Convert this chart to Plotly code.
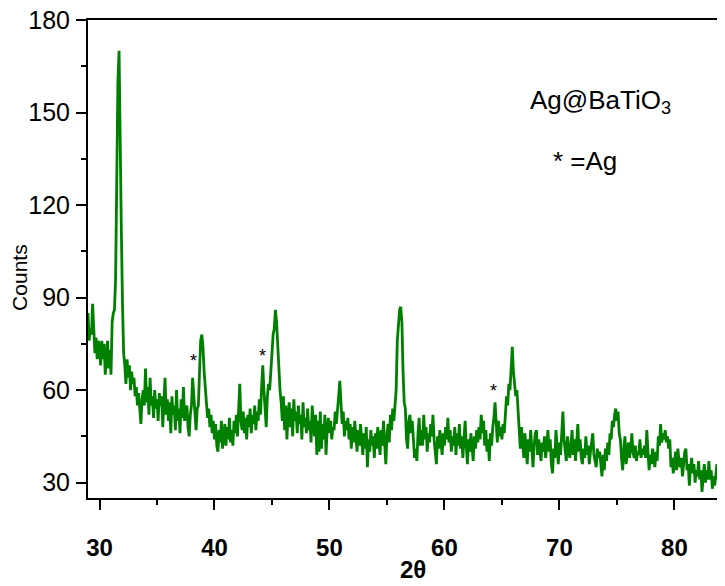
import plotly.graph_objects as go

# XRD pattern of Ag@BaTiO3, 2-theta from 29.0 in 0.1 degree steps
start_2theta = 29.0
step_2theta = 0.1

counts_29_39 = [
    85, 76, 80, 78, 88, 79, 72, 77, 70, 76,
    74, 68, 76, 70, 75, 65, 72, 76, 67, 73,
    65, 82, 85, 86, 96, 125, 160, 170, 148, 112,
    88, 72, 68, 62, 70, 64, 68, 60, 66, 62,
    64, 58, 61, 55, 59, 53, 49, 57, 60, 55,
    67, 56, 61, 52, 64, 55, 58, 51, 60, 54,
    57, 50, 59, 55, 58, 48, 55, 64, 52, 57,
    50, 56, 46, 58, 52, 55, 47, 60, 50, 54,
    46, 57, 51, 61, 50, 53, 55, 48, 45, 52,
    55, 64, 58, 50, 47, 54, 55, 66, 76, 78,
]
counts_39_49 = [
    74, 66, 60, 55, 51, 54, 48, 52, 46, 50,
    44, 49, 42, 40, 47, 43, 50, 41, 46, 49,
    42, 48, 44, 51, 43, 47, 42, 50, 46, 52,
    45, 55, 62, 50, 47, 53, 46, 51, 44, 52,
    48, 54, 46, 52, 49, 55, 47, 53, 50, 57,
    52, 61, 68, 60, 53, 48, 58, 62, 60, 66,
    70, 78, 80, 86, 82, 74, 66, 60, 56, 50,
    58, 47, 55, 44, 52, 56, 48, 54, 45, 57,
    50, 53, 46, 55, 49, 52, 44, 56, 48, 51,
    46, 54, 47, 50, 43, 55, 49, 45, 52, 39,
]
counts_49_59 = [
    50, 40, 53, 41, 49, 44, 52, 39, 47, 51,
    46, 50, 44, 48, 47, 53, 49, 55, 58, 63,
    56, 49, 53, 45, 50, 47, 51, 44, 49, 41,
    48, 43, 50, 45, 40, 47, 42, 49, 44, 39,
    46, 41, 48, 35, 44, 40, 47, 42, 45, 38,
    46, 41, 48, 43, 39, 47, 42, 50, 44, 36,
    45, 49, 43, 52, 47, 54, 50, 55, 60, 76,
    80, 86, 87, 82, 66, 56, 54, 44, 41, 50,
    52, 46, 50, 43, 38, 41, 37, 46, 51, 42,
    47, 42, 52, 44, 48, 40, 46, 43, 49, 45,
]
counts_59_69 = [
    52, 44, 40, 36, 45, 41, 47, 43, 39, 46,
    42, 48, 44, 51, 43, 47, 40, 45, 42, 48,
    39, 46, 42, 49, 41, 45, 38, 44, 50, 42,
    36, 44, 40, 46, 42, 37, 45, 41, 47, 43,
    48, 44, 52, 46, 50, 42, 47, 40, 44, 37,
    46, 42, 48, 51, 56, 47, 43, 50, 45, 48,
    44, 49, 46, 52, 58, 55, 62, 60, 66, 74,
    66, 62, 58, 60, 52, 46, 41, 48, 43, 38,
    46, 41, 36, 44, 40, 47, 42, 35, 42, 46,
    47, 39, 44, 41, 37, 43, 40, 45, 38, 42,
]
counts_69_79 = [
    47, 40, 44, 36, 33, 41, 38, 47, 40, 36,
    43, 39, 46, 53, 44, 40, 37, 45, 41, 38,
    42, 47, 39, 44, 37, 42, 49, 40, 44, 38,
    36, 41, 38, 45, 39, 42, 36, 40, 43, 46,
    39, 37, 35, 41, 38, 40, 36, 32, 39, 34,
    41, 37, 43, 39, 46, 44, 50, 48, 52, 54,
    50, 53, 46, 44, 38, 34, 41, 45, 36, 40,
    43, 38, 41, 46, 40, 38, 42, 37, 40, 39,
    44, 38, 41, 39, 42, 38, 47, 40, 34, 39,
    36, 41, 38, 35, 40, 37, 45, 42, 49, 43,
]
counts_79_85 = [
    46, 44, 47, 43, 45, 41, 44, 35, 38, 33,
    36, 40, 34, 41, 37, 35, 38, 32, 36, 40,
    41, 34, 36, 29, 35, 38, 33, 36, 30, 34,
    32, 37, 31, 34, 27, 32, 36, 30, 34, 31,
    37, 31, 34, 28, 32, 29, 33, 36, 31, 32,
    29, 33, 30, 35, 31,
]

counts = (counts_29_39 + counts_39_49 + counts_49_59
          + counts_59_69 + counts_69_79 + counts_79_85)
two_theta = [round(start_2theta + step_2theta * i, 2) for i in range(len(counts))]

# Ag reflections marked with '*'
ag_x = [38.2, 44.2, 64.3]
ag_y = [69.5, 71.1, 59.8]

x_ticks = [30, 40, 50, 60, 70, 80]
y_ticks = [30, 60, 90, 120, 150, 180]

FONT = "Arial, Liberation Sans, sans-serif"

fig = go.Figure()
fig.add_trace(go.Scatter(
    x=two_theta, y=counts, mode="lines",
    line=dict(color="#008000", width=2.8),
    showlegend=False, hoverinfo="skip",
))

for ax, ay in zip(ag_x, ag_y):
    fig.add_annotation(x=ax, y=ay, text="*", showarrow=False,
                       font=dict(family=FONT, size=18, color="black"),
                       xanchor="center", yanchor="middle")

fig.add_annotation(xref="paper", yref="paper", x=0.804, y=0.829,
                   text="Ag@BaTiO<sub>3</sub>", showarrow=False,
                   font=dict(family=FONT, size=26, color="black"),
                   xanchor="center", yanchor="middle")
fig.add_annotation(xref="paper", yref="paper", x=0.780, y=0.706,
                   text="* =Ag", showarrow=False,
                   font=dict(family=FONT, size=26, color="black"),
                   xanchor="center", yanchor="middle")

# axis titles placed as annotations
fig.add_annotation(xref="paper", yref="paper", x=-0.1068, y=0.4625,
                   text="Counts", showarrow=False, textangle=-90,
                   font=dict(family=FONT, size=21, color="black"),
                   xanchor="center", yanchor="middle")
fig.add_annotation(xref="paper", yref="paper", x=0.510, y=-0.1506,
                   text="<b>2θ</b>", showarrow=False,
                   font=dict(family=FONT, size=24, color="black"),
                   xanchor="center", yanchor="middle")

# page body adds an 8px offset, so the figure is sized to end at the window edge
fig.update_layout(
    width=717, height=578,
    margin=dict(l=80, r=0, t=12, b=88, autoexpand=False),
    paper_bgcolor="white", plot_bgcolor="white",
    font=dict(family=FONT, color="black"),
)
fig.update_xaxes(
    range=[29.0, 84.4], tickvals=x_ticks, automargin=False,
    ticks="outside", ticklen=10, tickwidth=2, tickcolor="black",
    minor=dict(dtick=5, tick0=0, ticks="outside", ticklen=5, tickwidth=2, tickcolor="black"),
    showline=True, linewidth=2, linecolor="black", mirror=True,
    showgrid=False, zeroline=False,
    tickfont=dict(family=FONT, size=24, color="black", weight="bold"),
    ticklabelstandoff=17, ticklabeloverflow="allow",
)
fig.update_yaxes(
    range=[25, 180], tickvals=y_ticks, automargin=False,
    ticks="outside", ticklen=10, tickwidth=2, tickcolor="black",
    minor=dict(dtick=15, tick0=0, ticks="outside", ticklen=5, tickwidth=2, tickcolor="black"),
    showline=True, linewidth=2, linecolor="black", mirror=False,
    showgrid=False, zeroline=False,
    tickfont=dict(family=FONT, size=25, color="black"),
    ticklabelstandoff=1, ticklabeloverflow="allow",
)

fig.write_html("out.html")
